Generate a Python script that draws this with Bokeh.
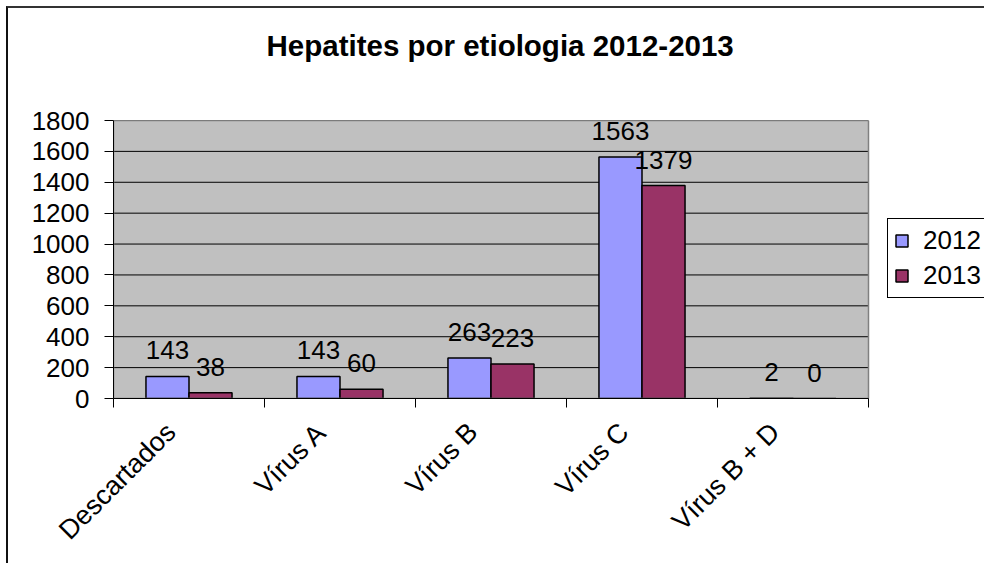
import math
import numpy as np
from bokeh.plotting import figure
from bokeh.models import (ColumnDataSource, FixedTicker, Range1d, Legend, LegendItem,
                          LabelSet, InlineStyleSheet)
from bokeh.core.properties import value
from bokeh.embed import file_html
from bokeh.resources import INLINE

# ---- data ----
categories = ["Descartados", "Vírus A", "Vírus B", "Vírus C", "Vírus B + D"]
values_2012 = [143, 143, 263, 1563, 2]
values_2013 = [38, 60, 223, 1379, 0]
series_names = ["2012", "2013"]
y_ticks = [0, 200, 400, 600, 800, 1000, 1200, 1400, 1600, 1800]
title_text = "Hepatites por etiologia 2012-2013"

FONT = "Liberation Sans"
C2012 = "#9999FF"
C2013 = "#993366"

n = len(categories)
y_max = y_ticks[-1]
idx = np.arange(n)
bar_w = 0.285
x12 = idx + 0.5 - bar_w / 2
x13 = idx + 0.5 + bar_w / 2

src12 = ColumnDataSource(dict(x=x12, top=values_2012, lbl=[str(v) for v in values_2012]))
src13 = ColumnDataSource(dict(x=x13, top=values_2013, lbl=[str(v) for v in values_2013]))

border_css = InlineStyleSheet(css="""
:host { position: relative; }
:host::after {
  content: '';
  position: absolute;
  left: 6px; top: 6px; right: 0; bottom: 0;
  border-left: 2px solid #111;
  border-top: 2px solid #333;
  pointer-events: none;
}
""")

# frame spans the plot area plus the legend column on the right
FRAME_W = 871
x_end = n * FRAME_W / 755.0
p = figure(frame_width=FRAME_W, frame_height=278, x_range=Range1d(0, x_end),
           y_range=Range1d(0, y_max), output_backend="svg", toolbar_location=None,
           min_border_left=113, min_border_right=0, min_border_top=119,
           min_border_bottom=166, background_fill_color="white",
           border_fill_color="white", outline_line_color=None,
           stylesheets=[border_css])

# grey plot area
p.quad(left=[0], right=[n], bottom=[0], top=[y_max], fill_color="#C0C0C0", line_color=None)
# horizontal gridlines
p.segment(x0=[0] * len(y_ticks), x1=[n] * len(y_ticks), y0=y_ticks, y1=y_ticks,
          line_color="black", line_width=1)

r12 = p.vbar(x="x", top="top", width=bar_w, source=src12, fill_color=C2012,
             line_color="black", line_width=1.5)
r13 = p.vbar(x="x", top="top", width=bar_w, source=src13, fill_color=C2013,
             line_color="black", line_width=1.5)

# plot area border
p.quad(left=[0], right=[n], bottom=[0], top=[y_max], fill_color=None,
       line_color="#808080", line_width=1.5)

# data labels
for s in (src12, src13):
    p.add_layout(LabelSet(x="x", y="top", text="lbl", source=s, y_offset=17,
                          text_align="center", text_baseline="alphabetic",
                          text_font=value(FONT), text_font_size=value("26px"),
                          text_color="black"))

p.xgrid.grid_line_color = None
p.ygrid.grid_line_color = None

# y axis
p.yaxis.ticker = FixedTicker(ticks=y_ticks, minor_ticks=[])
p.yaxis.axis_line_color = "black"
p.yaxis.major_tick_line_color = "black"
p.yaxis.major_tick_out = 9
p.yaxis.major_tick_in = 0
p.yaxis.minor_tick_line_color = None
p.yaxis.major_label_standoff = 15
p.yaxis.major_label_text_font = FONT
p.yaxis.major_label_text_font_size = "26px"
p.yaxis.major_label_text_color = "black"

# x axis: invisible label ticks slightly left of the category centre,
# visible minor ticks on the category boundaries
label_pos = [float(i) + 0.38 for i in idx]
p.xaxis.ticker = FixedTicker(ticks=label_pos, minor_ticks=[float(i) for i in range(n + 1)])
p.xaxis.major_label_overrides = {c: cat for c, cat in zip(label_pos, categories)}
p.xaxis.bounds = (0, n)
p.xaxis.axis_line_color = "black"
p.xaxis.major_tick_line_color = None
p.xaxis.major_tick_out = 0
p.xaxis.major_tick_in = 0
p.xaxis.minor_tick_line_color = "black"
p.xaxis.minor_tick_out = 9
p.xaxis.minor_tick_in = 0
p.xaxis.major_label_orientation = math.pi / 4
p.xaxis.major_label_standoff = 20
p.xaxis.major_label_text_font = FONT
p.xaxis.major_label_text_font_size = "27px"
p.xaxis.major_label_text_color = "black"

# legend (inside the extended frame, right of the plot area)
legend = Legend(items=[LegendItem(label=series_names[0], renderers=[r12]),
                       LegendItem(label=series_names[1], renderers=[r13])],
                location=(774, 100), orientation="vertical",
                border_line_color="black", border_line_width=1, border_line_alpha=1,
                background_fill_color="white", background_fill_alpha=1,
                label_text_font=FONT, label_text_font_size="26px",
                label_text_color="black",
                glyph_width=15, glyph_height=15, label_standoff=14,
                padding=6, spacing=4, margin=0)
p.add_layout(legend)

# title (second, blank line keeps the title high above the plot area)
p.title.text = title_text + "\n "
p.title.align = "left"
p.title.offset = 153
p.title.text_font = FONT
p.title.text_font_size = "29.5px"
p.title.text_font_style = "bold"
p.title.text_color = "black"
p.title.standoff = 52

open("out.html", "w").write(file_html(p, INLINE))
